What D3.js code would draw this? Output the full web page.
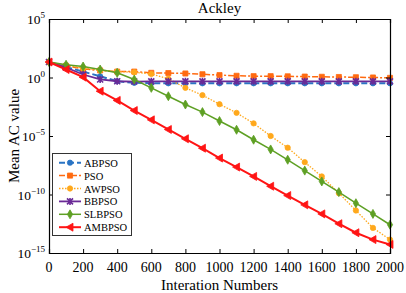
<!DOCTYPE html>
<html lang="en">
<head>
  <meta charset="utf-8">
  <title>Ackley</title>
  <style>
    body { margin: 0; background: #fff; }
    svg { display: block; font-family: "Liberation Serif", "Times New Roman", serif; }
  </style>
  <script src="https://d3js.org/d3.v7.min.js"></script>
</head>
<body>
<script>
    // iteration numbers (a marker every 100 iterations)
    let iterations = d3.range(0, 2001, 100)

    let names = ['ABPSO', 'PSO', 'AWPSO', 'BBPSO', 'SLBPSO', 'AMBPSO']

    let abpso = [21, 7.9, 3.2, 1.26, 0.48, 0.35, 0.33, 0.32, 0.32, 0.32, 0.32, 0.32, 0.32, 0.32, 0.32, 0.32, 0.32, 0.32, 0.32, 0.32, 0.32]
    let pso = [21, 10, 5.5, 4.0, 3.2, 3.2, 2.5, 2.4, 2.2, 1.9, 1.6, 1.4, 1.3, 1.3, 1.26, 1.2, 1.15, 1.1, 1.05, 1.0, 0.93]
    let awpso = [21, 11, 6.3, 4.2, 3.2, 2.8, 2.0, 0.78, 0.13, 3.1e-2, 5.2e-3, 9.5e-4, 1.2e-4, 1e-5, 1e-6, 5.8e-8, 3.5e-9, 1.3e-10, 4.3e-12, 1.4e-13, 1.4e-14]
    let bbpso = [21, 7.1, 1.8, 0.68, 0.48, 0.45, 0.47, 0.47, 0.47, 0.47, 0.47, 0.47, 0.47, 0.47, 0.47, 0.47, 0.47, 0.47, 0.47, 0.47, 0.47]
    let slbpso = [21, 12.3, 8.7, 4.8, 2.5, 0.68, 0.13, 2.5e-2, 4.9e-3, 1.1e-3, 1.9e-4, 3.4e-5, 4.8e-6, 7.1e-7, 9.3e-8, 1.1e-8, 1.3e-9, 1.6e-10, 1.8e-11, 2.2e-12, 2.6e-13]
    let ambpso = [21, 4.8, 1.07, 6.8e-2, 1.1e-2, 1.5e-3, 2.4e-4, 3.6e-5, 5.8e-6, 9.1e-7, 1.3e-7, 2.2e-8, 3.5e-9, 5.1e-10, 8.1e-11, 1.3e-11, 2.2e-12, 3.2e-13, 5.4e-14, 1.4e-14, 5.4e-15]

    let xTicks = d3.range(0, 2001, 200)
    let yTickExps = [5, 0, -5, -10, -15]

    let width = 406
    let height = 293
    let mLeft = 49, mRight = 390, mTop = 19, mBottom = 253

    let series = [
        {name: 'ABPSO', values: abpso, color: '#2a74c4', dash: '6,3', marker: 'circle', width: 2},
        {name: 'PSO', values: pso, color: '#ff6a10', dash: '6,2,2,2', marker: 'square', width: 1.5},
        {name: 'AWPSO', values: awpso, color: '#ffa81c', dash: '1.5,1.5', marker: 'circle', width: 1.3},
        {name: 'BBPSO', values: bbpso, color: '#6a2a96', dash: null, marker: 'x', width: 1.8},
        {name: 'SLBPSO', values: slbpso, color: '#5ea024', dash: null, marker: 'diamond', width: 1.5},
        {name: 'AMBPSO', values: ambpso, color: '#ff1414', dash: null, marker: 'ltri', width: 2}
    ]

    let xScale = d3.scaleLinear().domain([0, 2000]).range([mLeft, mRight])
    let yScale = d3.scaleLog().domain([1e-15, 1e5]).range([mBottom, mTop])

    let svg = d3.select('body').append('svg')
        .attr('width', width)
        .attr('height', height)

    let markerPath = (type) => {
        if (type === 'circle') return d3.symbol(d3.symbolCircle, 22)()
        if (type === 'square') return d3.symbol(d3.symbolSquare, 26)()
        if (type === 'diamond') return 'M0,-4.5L2.6,0L0,4.5L-2.6,0Z'
        if (type === 'ltri') return 'M-4,0L3,-4L3,4Z'
        if (type === 'x') return 'M-3,-3L3,3M-3,3L3,-3M0,-3.5L0,3.5'
    }

    let drawMarker = (g, s, x, y) => {
        g.append('path')
            .attr('d', markerPath(s.marker))
            .attr('transform', `translate(${x},${y})`)
            .attr('fill', s.color)
            .attr('stroke', s.color)
            .attr('stroke-width', s.marker === 'x' ? 1.6 : 0.8)
    }

    // series
    let line = d3.line()
        .x((d, i) => xScale(iterations[i]))
        .y((d) => yScale(d))

    series.forEach((s) => {
        let g = svg.append('g')
        g.append('path')
            .datum(s.values)
            .attr('d', line)
            .attr('fill', 'none')
            .attr('stroke', s.color)
            .attr('stroke-width', s.width)
            .attr('stroke-dasharray', s.dash)
        s.values.forEach((v, i) => drawMarker(g, s, xScale(iterations[i]), yScale(v)))
    })

    // axes box with inward ticks
    let xAxisB = d3.axisBottom(xScale).tickValues(xTicks).tickSize(-4).tickFormat('')
    let xAxisT = d3.axisTop(xScale).tickValues(xTicks).tickSize(-4).tickFormat('')
    let yVals = yTickExps.map((e) => Math.pow(10, e))
    let yAxisL = d3.axisLeft(yScale).tickValues(yVals).tickSize(-4).tickFormat('')
    let yAxisR = d3.axisRight(yScale).tickValues(yVals).tickSize(-4).tickFormat('')

    svg.append('g').attr('transform', `translate(0,${mBottom})`).call(xAxisB)
    svg.append('g').attr('transform', `translate(0,${mTop})`).call(xAxisT)
    svg.append('g').attr('transform', `translate(${mLeft},0)`).call(yAxisL)
    svg.append('g').attr('transform', `translate(${mRight},0)`).call(yAxisR)
    svg.selectAll('.domain').attr('stroke', '#000').attr('stroke-width', 1.2)
    svg.selectAll('.tick line').attr('stroke', '#000')

    // tick labels
    svg.append('g').selectAll('text')
        .data(xTicks)
        .enter()
        .append('text')
        .attr('x', (d) => xScale(d))
        .attr('y', mBottom + 19)
        .attr('text-anchor', 'middle')
        .attr('font-size', 14)
        .text((d) => d)

    let yl = svg.append('g').selectAll('text')
        .data(yTickExps)
        .enter()
        .append('text')
        .attr('x', mLeft - 4)
        .attr('y', (d) => yScale(Math.pow(10, d)) + 5)
        .attr('text-anchor', 'end')
        .attr('font-size', 13.5)
    yl.append('tspan').text('10')
    yl.append('tspan')
        .attr('dy', -6)
        .attr('font-size', 9)
        .text((d) => d < 0 ? '\u2212' + (-d) : d)

    // title and axis labels
    svg.append('text')
        .attr('x', (mLeft + mRight) / 2)
        .attr('y', 13)
        .attr('text-anchor', 'middle')
        .attr('font-size', 15)
        .text('Ackley')

    svg.append('text')
        .attr('x', (mLeft + mRight) / 2)
        .attr('y', 290)
        .attr('text-anchor', 'middle')
        .attr('font-size', 15)
        .text('Interation Numbers')

    svg.append('text')
        .attr('transform', `translate(19,${(mTop + mBottom) / 2}) rotate(-90)`)
        .attr('text-anchor', 'middle')
        .attr('font-size', 15)
        .text('Mean AC value')

    // legend
    let legend = svg.append('g')
    legend.append('rect')
        .attr('x', 52.5).attr('y', 153.5)
        .attr('width', 79).attr('height', 82)
        .attr('fill', '#fff')
        .attr('stroke', '#333')
        .attr('stroke-width', 1)

    series.forEach((s, i) => {
        let y = 162.7 + i * 12.9
        legend.append('line')
            .attr('x1', 59).attr('x2', 81)
            .attr('y1', y).attr('y2', y)
            .attr('stroke', s.color)
            .attr('stroke-width', s.width)
            .attr('stroke-dasharray', s.dash)
        drawMarker(legend, s, 70, y)
        legend.append('text')
            .attr('x', 84)
            .attr('y', y + 4)
            .attr('font-size', 10.5)
            .text(s.name)
    })
</script>
</body>
</html>
